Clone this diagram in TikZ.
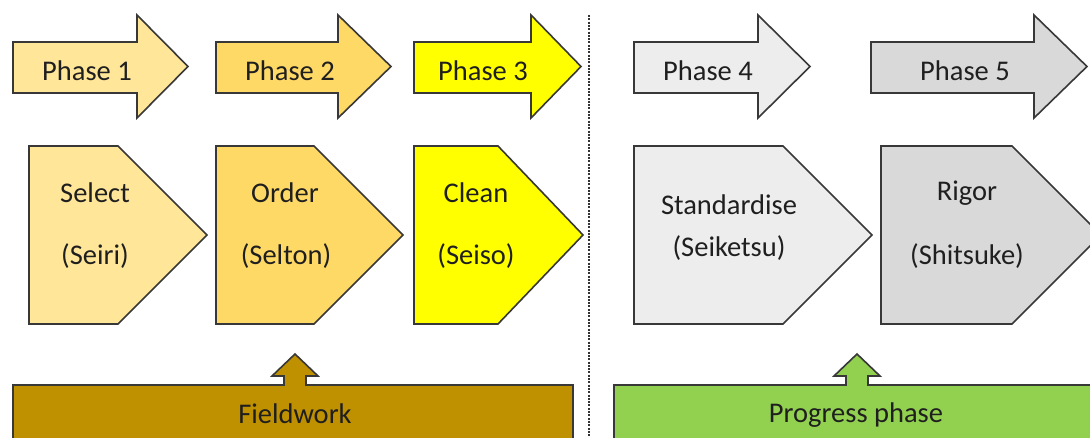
\documentclass[tikz,border=0pt]{standalone}
\usepackage{fontspec}
\setmainfont{Carlito}
\definecolor{cA}{HTML}{FFE699}
\definecolor{cB}{HTML}{FFD966}
\definecolor{cC}{HTML}{FFFF00}
\definecolor{cD}{HTML}{EDEDED}
\definecolor{cE}{HTML}{D9D9D9}
\definecolor{cField}{HTML}{BF9000}
\definecolor{cProg}{HTML}{92D050}
\definecolor{txt}{HTML}{1F1F1F}
\newcommand\phasearrow[5]{% name, left, headstart, tip, colour
  \filldraw[shp,fill=#5] (#2,42) -- (#3,42) -- (#3,15) -- (#4,66.5) -- (#3,118) -- (#3,93) -- (#2,93) -- cycle;}
\newcommand\stepshape[4]{% left, corner, tip, colour
  \filldraw[shp,fill=#4] (#1,146) -- (#2,146) -- (#3,235) -- (#2,324) -- (#1,324) -- cycle;}
\begin{document}
\begin{tikzpicture}[x=1pt,y=-1pt,
  shp/.style={draw=black!78,line width=1.6pt,line join=miter},
  lbl/.style={font=\fontsize{28.5}{34}\selectfont,text=txt,inner sep=0pt}]
\clip (0,0) rectangle (1090,437);
\fill[white] (0,0) rectangle (1090,437);
% divider
\draw[black!80,line width=1.3pt,dash pattern=on 2pt off 1.3pt] (589,15) -- (589,437);
% phase arrows
\phasearrow{p1}{13}{137}{188}{cA}
\phasearrow{p2}{216}{338}{391}{cB}
\phasearrow{p3}{414}{531}{581}{cC}
\phasearrow{p4}{634}{758}{810}{cD}
\phasearrow{p5}{871}{1034}{1087}{cE}
\node[lbl] (t1) at (87,71) {Phase 1};
\node[lbl] (t2) at (290,71) {Phase 2};
\node[lbl] (t3) at (483,71) {Phase 3};
\node[lbl] (t4) at (708,71) {Phase 4};
\node[lbl] (t5) at (965,71) {Phase 5};
% steps
\stepshape{29}{118}{207}{cA}
\stepshape{216}{314}{403}{cB}
\stepshape{414}{498}{583}{cC}
\stepshape{634}{783}{872}{cD}
\stepshape{881}{1012}{1101}{cE}
\node[lbl] (s1a) at (95,193) {Select};
\node[lbl] (s1b) at (95,256) {(Seiri)};
\node[lbl] (s2a) at (285,193) {Order};
\node[lbl] (s2b) at (286,256) {(Selton)};
\node[lbl] (s3a) at (476,193) {Clean};
\node[lbl] (s3b) at (476,256) {(Seiso)};
\node[lbl] (s4a) at (729,205) {Standardise};
\node[lbl] (s4b) at (729,248) {(Seiketsu)};
\node[lbl] (s5a) at (967,193) {Rigor};
\node[lbl] (s5b) at (967,256) {(Shitsuke)};
% bottom bars
\filldraw[shp,fill=cField] (13,385) -- (284,385) -- (284,376) -- (272,376) -- (295,354) -- (318,376) -- (306,376) -- (306,385) -- (573,385) -- (573,445) -- (13,445) -- cycle;
\filldraw[shp,fill=cProg] (614,385) -- (846,385) -- (846,376) -- (834,376) -- (857,354) -- (880,376) -- (868,376) -- (868,385) -- (1100,385) -- (1100,445) -- (614,445) -- cycle;
\node[lbl] (fw) at (295,414) {Fieldwork};
\node[lbl] (pp) at (856,415) {Progress phase};
\end{tikzpicture}
\end{document}
